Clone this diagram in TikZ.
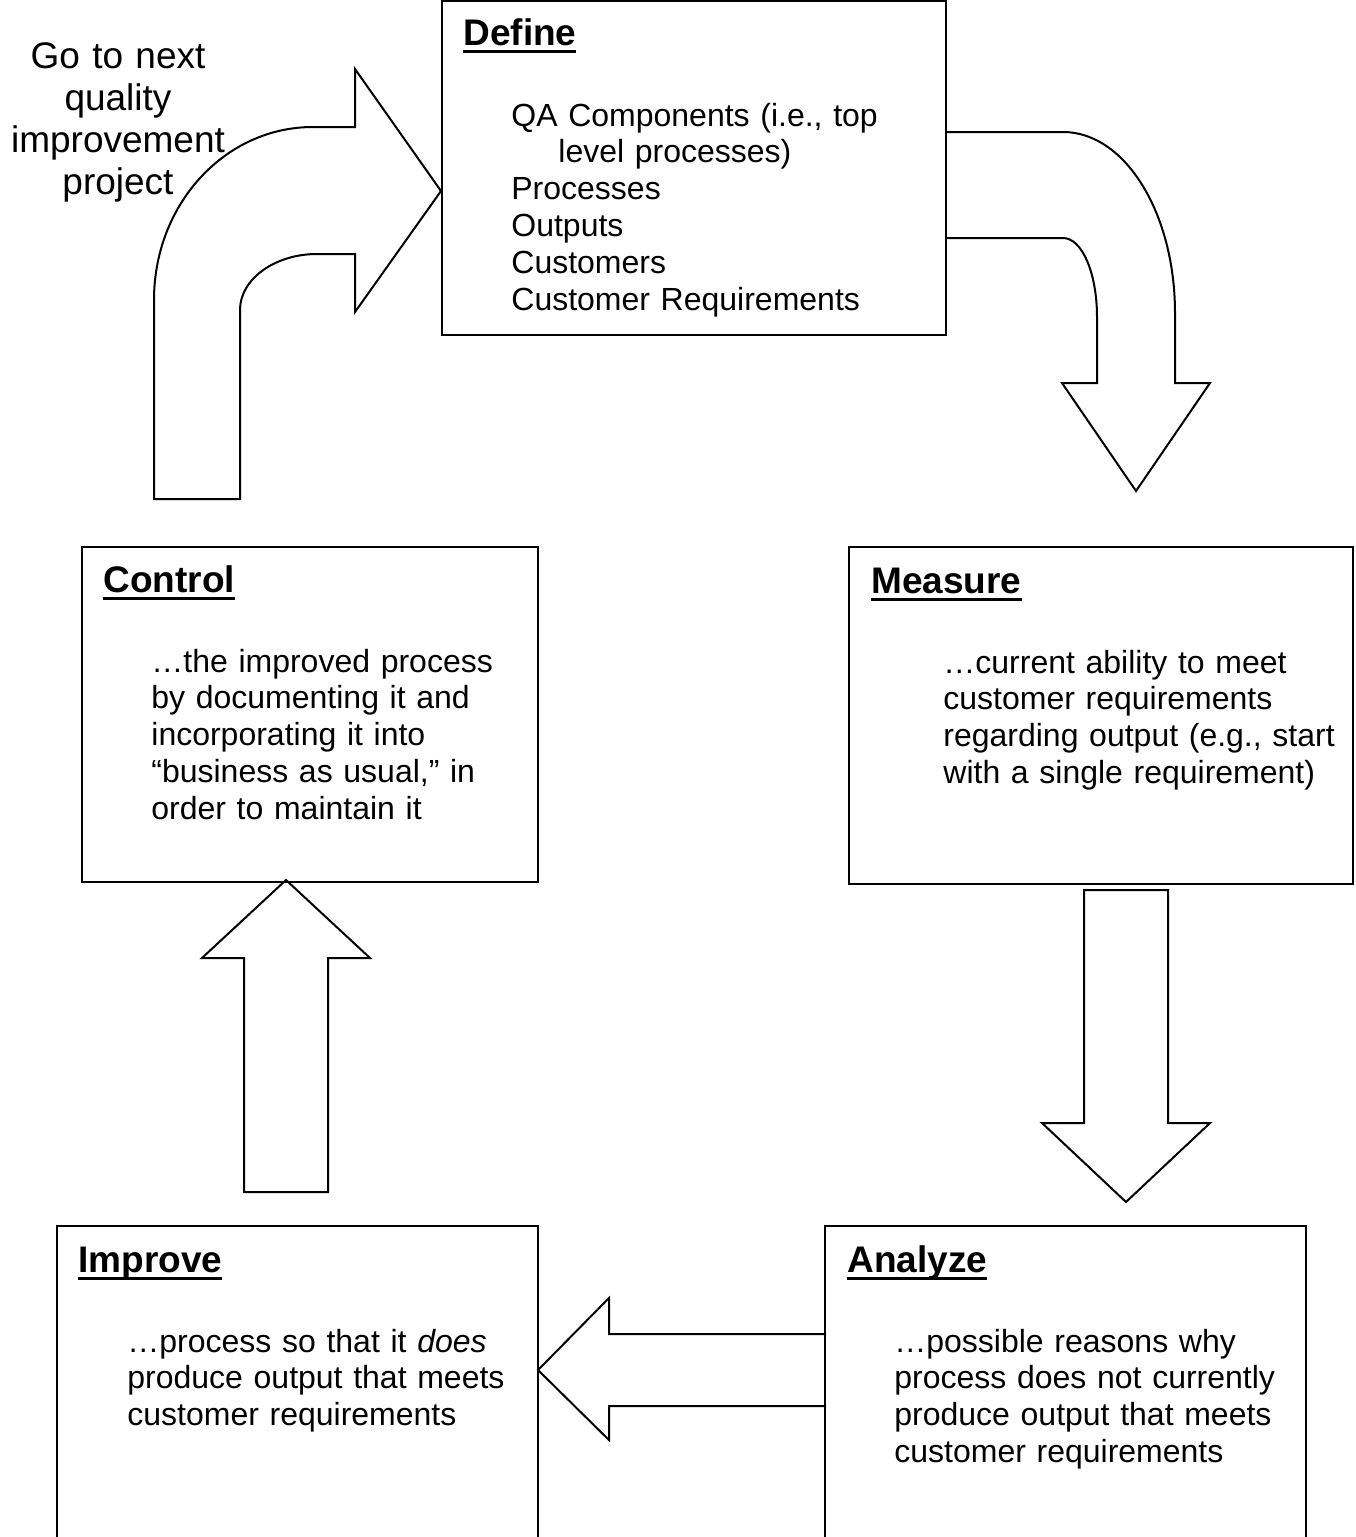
\documentclass[tikz,border=0pt]{standalone}
\usepackage{fontspec}
\setmainfont{Liberation Sans}
\newcommand{\uhead}[1]{\setbox0\hbox{#1}\rlap{\rule[-3.8pt]{\wd0}{1.3pt}}\box0}
\tikzset{
  stagebox/.style={line width=1pt},
  blockarrow/.style={line width=1pt, line join=miter},
  headtext/.style={anchor=base west, inner sep=0pt, font=\fontsize{18.5}{21.3}\selectfont\bfseries},
  bodytext/.style={anchor=base west, inner sep=0pt, text width=250pt, align=left, font=\fontsize{16}{18.4}\selectfont},
}
\begin{document}
\begin{tikzpicture}[x=0.5pt, y=-0.5pt]
	\fill[white] (0,0) rectangle (1355,1537);
	\clip (0,0) rectangle (1355,1537);

	% stage boxes
	\draw[stagebox] (442,0.5) rectangle (946,335);
	\draw[stagebox] (849,547) rectangle (1353,884);
	\draw[stagebox] (82,547) rectangle (538,882);
	\draw[stagebox] (57,1545) |- (538,1226) -- (538,1545);
	\draw[stagebox] (825,1545) |- (1306,1226) -- (1306,1545);

	% texts
	\node[headtext] (definehead) at (463,45) {\uhead{Define}};
	\node[bodytext] (definebody) at (511,126) {QA Components (i.e., top\\\hspace*{23.5pt}level processes)\\Processes\\Outputs\\Customers\\Customer Requirements};

	\node[headtext] (measurehead) at (871,593) {\uhead{Measure}};
	\node[bodytext] (measurebody) at (943,673) {…current ability to meet\\customer requirements\\regarding output (e.g., start\\with a single requirement)};

	\node[headtext] (controlhead) at (103,592) {\uhead{Control}};
	\node[bodytext] (controlbody) at (151,672) {…the improved process\\by documenting it and\\incorporating it into\\“business as usual,” in\\order to maintain it};

	\node[headtext] (improvehead) at (78,1272) {\uhead{Improve}};
	\node[bodytext] (improvebody) at (127,1352) {…process so that it \textit{does}\\produce output that meets\\customer requirements};

	\node[headtext] (analyzehead) at (847,1272) {\uhead{Analyze}};
	\node[bodytext] (analyzebody) at (894,1352) {…possible reasons why\\process does not currently\\produce output that meets\\customer requirements};

	\node[anchor=base, inner sep=0pt, text width=110pt, align=center, font=\fontsize{18.5}{21}\selectfont] (nextproject) at (118,68) {Go to next\\quality\\improvement\\project};

	% curved arrows
	\draw[blockarrow] (154,499) -- (154,300) .. controls (154,204) and (225,127) .. (313,127) -- (355,127) -- (355,69) -- (441,191) -- (355,312) -- (355,254) -- (317,254) .. controls (275,254) and (240,279) .. (240,310) -- (240,499) -- cycle;
	\draw[blockarrow] (946,132) -- (1063,132) .. controls (1125,132) and (1175,213) .. (1175,313) -- (1175,383) -- (1210,383) -- (1136,491) -- (1062,383) -- (1097,383) -- (1097,317) .. controls (1097,273) and (1082,238) .. (1063,238) -- (946,238);

	% straight arrows
	\draw[blockarrow] (1084,890) -- (1168,890) -- (1168,1123) -- (1210,1123) -- (1126,1202) -- (1042,1123) -- (1084,1123) -- cycle;
	\draw[blockarrow] (826,1334) -- (609,1334) -- (609,1298) -- (538,1370) -- (609,1440) -- (609,1406) -- (826,1406);
	\draw[blockarrow] (244,1192) -- (244,958) -- (202,958) -- (286,880) -- (370,958) -- (328,958) -- (328,1192) -- cycle;
\end{tikzpicture}
\end{document}
